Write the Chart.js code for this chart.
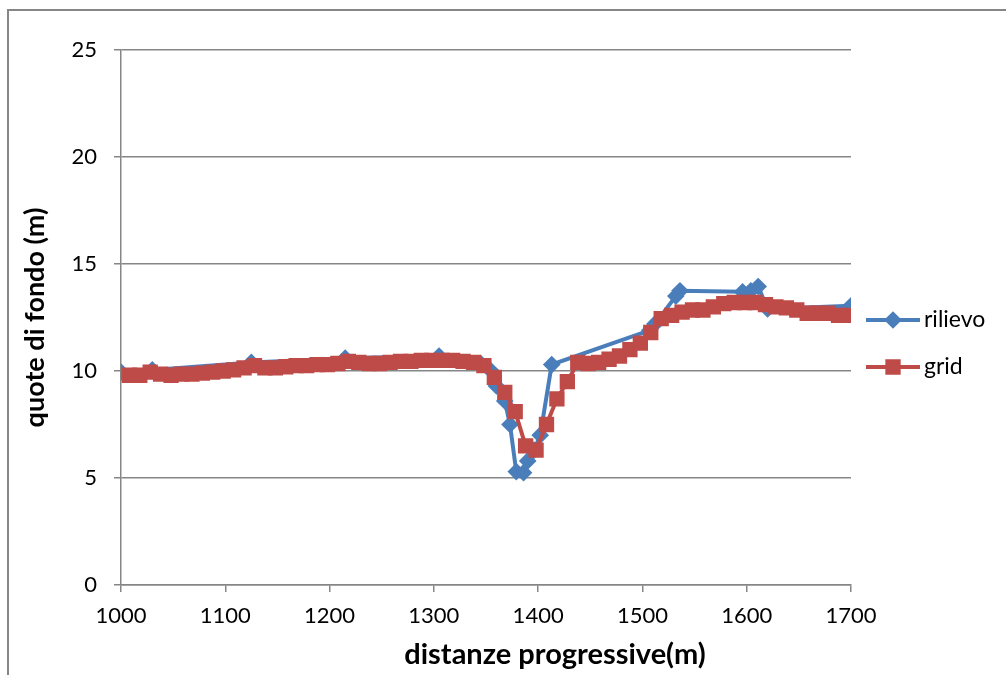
<!DOCTYPE html>
<html>
<head>
<meta charset="utf-8">
<script src="https://cdn.jsdelivr.net/npm/chart.js@4/dist/chart.umd.min.js"></script>
<style>
  html, body { margin: 0; padding: 0; background: #fff; }
  #box { width: 1006px; height: 675px; }
</style>
</head>
<body>
<div id="box"><canvas id="grafico" width="1006" height="675"></canvas></div>
<script>
// dati
const rilievoX = [1000, 1030, 1125, 1215, 1305, 1345, 1355, 1360, 1368, 1373, 1379, 1386, 1390, 1396, 1402, 1413, 1507, 1512, 1532, 1536, 1596, 1604, 1611, 1620, 1700];
const rilievoY = [9.95, 10.05, 10.4, 10.6, 10.7, 10.35, 10.0, 9.3, 8.6, 7.5, 5.3, 5.25, 5.8, 6.3, 7.0, 10.3, 11.9, 12.2, 13.5, 13.75, 13.7, 13.75, 13.95, 12.9, 13.05];

const gridX = [1008, 1018, 1028, 1038, 1048, 1058, 1068, 1078, 1088, 1098,
               1108, 1118, 1128, 1138, 1148, 1158, 1168, 1178, 1188, 1198,
               1208, 1218, 1228, 1238, 1248, 1258, 1268, 1278, 1288, 1298,
               1308, 1318, 1328, 1338, 1348, 1358, 1368, 1378, 1388, 1398,
               1408, 1418, 1428, 1438, 1448, 1458, 1468, 1478, 1488, 1498,
               1508, 1518, 1528, 1538, 1548, 1558, 1568, 1578, 1588, 1598,
               1608, 1618, 1628, 1638, 1648, 1658, 1668, 1678, 1688, 1698];
const gridY = [9.8, 9.8, 9.95, 9.85, 9.8, 9.85, 9.85, 9.9, 9.95, 10.0,
               10.05, 10.15, 10.25, 10.15, 10.15, 10.2, 10.25, 10.25, 10.3, 10.3,
               10.35, 10.45, 10.4, 10.35, 10.35, 10.4, 10.45, 10.45, 10.5, 10.5,
               10.5, 10.5, 10.45, 10.4, 10.25, 9.7, 9.0, 8.1, 6.5, 6.3,
               7.5, 8.7, 9.5, 10.4, 10.35, 10.4, 10.55, 10.7, 11.0, 11.3,
               11.8, 12.45, 12.6, 12.75, 12.85, 12.85, 13.0, 13.15, 13.2, 13.2,
               13.2, 13.1, 13.0, 12.95, 12.85, 12.7, 12.7, 12.7, 12.6, 12.6];

const xTicks = [1000, 1100, 1200, 1300, 1400, 1500, 1600, 1700];
const yTicks = [0, 5, 10, 15, 20, 25];

const titoloX = 'distanze progressive(m)';
const titoloY = 'quote di fondo (m)';

const FONT = 'Lato, "Open Sans", sans-serif';
const GRIGIO = '#868686';
const BLU = '#4A7EBB';
const ROSSO = '#BE4B48';

function punti(xs, ys) {
    return xs.map((x, i) => ({ x: x, y: ys[i] }));
}

// sfondo bianco + cornice grigia come in Excel
const cornice = {
    id: 'cornice',
    beforeDraw(chart) {
        const ctx = chart.ctx;
        ctx.save();
        ctx.fillStyle = '#fff';
        ctx.fillRect(0, 0, chart.width, chart.height);
        ctx.strokeStyle = GRIGIO;
        ctx.lineWidth = 2;
        ctx.strokeRect(8, 10, chart.width + 50, chart.height + 50);
        ctx.restore();
    }
};

// legenda a destra e titolo asse x
const legendaTitolo = {
    id: 'legendaTitolo',
    afterDraw(chart) {
        const ctx = chart.ctx;
        const area = chart.chartArea;
        ctx.save();
        const righe = [320, 367];
        chart.data.datasets.forEach((ds, i) => {
            const y = righe[i];
            ctx.strokeStyle = ds.borderColor;
            ctx.lineWidth = ds.borderWidth;
            ctx.beginPath();
            ctx.moveTo(area.right + 15, y);
            ctx.lineTo(area.right + 69, y);
            ctx.stroke();
            ctx.fillStyle = ds.pointBackgroundColor;
            ctx.strokeStyle = ds.pointBorderColor;
            Chart.helpers.drawPoint(ctx, {
                pointStyle: ds.pointStyle,
                radius: ds.pointRadius,
                rotation: 0,
                borderWidth: 1
            }, area.right + 42, y);
            ctx.fillStyle = '#000';
            ctx.font = '23px ' + FONT;
            ctx.textAlign = 'left';
            ctx.textBaseline = 'middle';
            ctx.fillText(ds.label, area.right + 73, y);
        });
        ctx.font = 'bold 29px ' + FONT;
        ctx.textAlign = 'center';
        ctx.textBaseline = 'middle';
        ctx.fillStyle = '#000';
        ctx.fillText(titoloX, 555, 655);
        ctx.restore();
    }
};

const ctx = document.getElementById('grafico').getContext('2d');
const grafico = new Chart(ctx, {
    type: 'scatter',
    data: {
        datasets: [{
            label: 'rilievo',
            data: punti(rilievoX, rilievoY),
            showLine: true,
            borderColor: BLU,
            backgroundColor: BLU,
            pointBackgroundColor: BLU,
            pointBorderColor: BLU,
            borderWidth: 4,
            pointStyle: 'rectRot',
            pointRadius: 6,
            order: 2
        }, {
            label: 'grid',
            data: punti(gridX, gridY),
            showLine: true,
            borderColor: ROSSO,
            backgroundColor: ROSSO,
            pointBackgroundColor: ROSSO,
            pointBorderColor: ROSSO,
            borderWidth: 4,
            pointStyle: 'rect',
            pointRadius: 8,
            order: 1
        }]
    },
    options: {
        responsive: false,
        animation: false,
        layout: { padding: { top: 50, right: 155, bottom: 0, left: 0 } },
        plugins: {
            legend: { display: false },
            tooltip: { enabled: false }
        },
        scales: {
            x: {
                type: 'linear',
                min: 1000,
                max: 1700,
                afterBuildTicks: s => { s.ticks = xTicks.map(v => ({ value: v })); },
                ticks: { color: '#000', font: { family: FONT, size: 22 }, padding: 11, callback: v => String(v) },
                grid: { drawOnChartArea: false, drawTicks: true, tickLength: 7, color: GRIGIO, lineWidth: 1.5 },
                border: { color: GRIGIO, width: 1.5 },
                afterFit: s => { s.height = 90; }
            },
            y: {
                min: 0,
                max: 25,
                afterBuildTicks: s => { s.ticks = yTicks.map(v => ({ value: v })); },
                ticks: { color: '#000', font: { family: FONT, size: 22 }, padding: 17, callback: v => String(v) },
                grid: { color: GRIGIO, lineWidth: 1.5, tickLength: 7 },
                border: { color: GRIGIO, width: 1.5 },
                title: {
                    display: true,
                    text: titoloY,
                    color: '#000',
                    font: { family: FONT, size: 27, weight: 'bold' },
                    padding: { top: 19, bottom: 0 }
                },
                afterFit: s => { s.width = 121; }
            }
        }
    },
    plugins: [cornice, legendaTitolo]
});
</script>
</body>
</html>
